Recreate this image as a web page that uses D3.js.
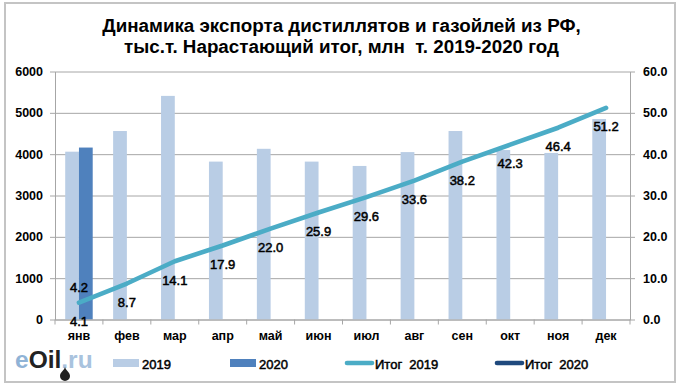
<!DOCTYPE html>
<html lang="ru">
<head>
  <meta charset="UTF-8">
  <title>Экспорт дистиллятов</title>
  <script src="https://d3js.org/d3.v7.min.js"></script>
  <style>
    * { margin: 0; padding: 0; box-sizing: border-box; }
    body { background: #fff; font-family: "Liberation Sans", Arial, sans-serif; }
    svg { display: block; }
    text { fill: #000; font-family: "Liberation Sans", Arial, sans-serif; white-space: pre; }
  </style>
</head>
<body>
  <div id="chart"></div>
  <script>
    const months = ["янв", "фев", "мар", "апр", "май", "июн", "июл", "авг", "сен", "окт", "ноя", "дек"];
    const exp2019 = [4060, 4560, 5410, 3820, 4130, 3820, 3715, 4050, 4560, 4100, 4030, 4850];
    const exp2020 = [4160];
    const total2019 = [4.1, 8.7, 14.1, 17.9, 22.0, 25.9, 29.6, 33.6, 38.2, 42.3, 46.4, 51.2];
    const total2020 = [4.2];
    const leftTicks = [0, 1000, 2000, 3000, 4000, 5000, 6000];
    const rightTicks = [0, 10, 20, 30, 40, 50, 60];
    const titleLines = ["Динамика экспорта дистиллятов и газойлей из РФ,", "тыс.т. Нарастающий итог, млн  т. 2019-2020 год"];

    const width = 682, height = 389;
    const plot = {left: 55, right: 630, top: 71.5, bottom: 319.5};
    const c2019 = "#b9cde5", c2020 = "#4f81bd", cLine19 = "#4bacc6", cLine20 = "#1f497d";

    const svg = d3.select("#chart").append("svg")
      .attr("width", width)
      .attr("height", height);

    // рамка
    svg.append("rect")
      .attr("x", 5).attr("y", 3)
      .attr("width", 670).attr("height", 379)
      .attr("fill", "#fff")
      .attr("stroke", "#c4c4c4")
      .attr("stroke-width", 2);

    svg.append("g").selectAll("text")
      .data(titleLines)
      .enter()
      .append("text")
      .attr("x", 341.5)
      .attr("y", (d, i) => 32 + i * 20.5)
      .attr("text-anchor", "middle")
      .style("font-size", "18.8px")
      .style("font-weight", "bold")
      .text(d => d);

    const x = d3.scaleBand().domain(months).range([plot.left, plot.right]);
    const xGroup = d3.scaleBand().domain(["2019", "2020"]).range([0, 27.5]);
    const groupOffset = (x.bandwidth() - 27.5) / 2;
    const y = d3.scaleLinear().domain([0, 6000]).range([plot.bottom, plot.top]);
    const yRight = d3.scaleLinear().domain([0, 60]).range([plot.bottom, plot.top]);

    // сетка
    svg.append("g")
      .attr("transform", `translate(${plot.left},0)`)
      .call(d3.axisLeft(y).tickValues(leftTicks).tickSize(-(plot.right - plot.left)).tickFormat(""))
      .call(g => g.select(".domain").remove())
      .selectAll("line")
      .attr("stroke", "#a6a6a6")
      .attr("stroke-width", 1);

    svg.selectAll(".bar19")
      .data(exp2019)
      .enter()
      .append("rect")
      .attr("class", "bar19")
      .attr("x", (d, i) => x(months[i]) + groupOffset + xGroup("2019"))
      .attr("y", d => y(d))
      .attr("width", xGroup.bandwidth())
      .attr("height", d => y(0) - y(d))
      .attr("fill", c2019);

    svg.selectAll(".bar20")
      .data(exp2020)
      .enter()
      .append("rect")
      .attr("class", "bar20")
      .attr("x", (d, i) => x(months[i]) + groupOffset + xGroup("2020"))
      .attr("y", d => y(d))
      .attr("width", xGroup.bandwidth())
      .attr("height", d => y(0) - y(d))
      .attr("fill", c2020);

    const axisLeft = svg.append("g")
      .attr("transform", `translate(${plot.left},0)`)
      .call(d3.axisLeft(y).tickValues(leftTicks).tickSize(5).tickSizeOuter(0).tickPadding(7).tickFormat(d3.format("d")));
    const axisRight = svg.append("g")
      .attr("transform", `translate(${plot.right},0)`)
      .call(d3.axisRight(yRight).tickValues(rightTicks).tickSize(5).tickSizeOuter(0).tickPadding(8).tickFormat(d3.format(".1f")));
    const axisBottom = svg.append("g")
      .attr("transform", `translate(0,${plot.bottom})`)
      .call(d3.axisBottom(x).tickSize(0).tickPadding(12));

    // засечки между категориями
    axisBottom.selectAll(".sep")
      .data(months.concat("end"))
      .enter()
      .append("line")
      .attr("class", "sep")
      .attr("x1", (d, i) => plot.left + i * x.step())
      .attr("x2", (d, i) => plot.left + i * x.step())
      .attr("y1", 0)
      .attr("y2", 5);

    [axisLeft, axisRight, axisBottom].forEach(g => {
      g.selectAll(".domain").attr("stroke", "#a6a6a6");
      g.selectAll("line").attr("stroke", "#a6a6a6");
      g.selectAll("text")
        .style("font-size", "12.5px")
        .style("font-weight", "bold")
        .style("font-family", "'Liberation Sans', Arial, sans-serif")
        .attr("fill", "#000");
    });

    const line = d3.line()
      .x((d, i) => x(months[i]) + x.bandwidth() / 2)
      .y(d => yRight(d));

    svg.append("path")
      .datum(total2019)
      .attr("d", line)
      .attr("fill", "none")
      .attr("stroke", cLine19)
      .attr("stroke-width", 4.6)
      .attr("stroke-linecap", "round")
      .attr("stroke-linejoin", "round");

    // подписи не жирные, но с лёгкой обводкой - как в исходнике
    svg.selectAll(".lab19")
      .data(total2019)
      .enter()
      .append("text")
      .attr("class", "lab19")
      .attr("x", (d, i) => x(months[i]) + x.bandwidth() / 2)
      .attr("y", d => yRight(d) + 23.5)
      .attr("text-anchor", "middle")
      .attr("stroke", "#000")
      .attr("stroke-width", 0.5)
      .style("font-size", "13px")
      .text(d => d.toFixed(1));

    svg.selectAll(".lab20")
      .data(total2020)
      .enter()
      .append("text")
      .attr("class", "lab20")
      .attr("x", (d, i) => x(months[i]) + x.bandwidth() / 2)
      .attr("y", d => yRight(d) - 10)
      .attr("text-anchor", "middle")
      .attr("stroke", "#000")
      .attr("stroke-width", 0.5)
      .style("font-size", "13px")
      .text(d => d.toFixed(1));

    // легенда
    const legendItems = [
      {name: "2019", color: c2019, type: "bar", x: 113},
      {name: "2020", color: c2020, type: "bar", x: 230},
      {name: "Итог  2019", color: cLine19, type: "line", x: 345},
      {name: "Итог  2020", color: cLine20, type: "line", x: 495}
    ];
    const legend = svg.selectAll(".legend")
      .data(legendItems)
      .enter()
      .append("g")
      .attr("class", "legend")
      .attr("transform", d => `translate(${d.x},363)`);
    legend.filter(d => d.type === "bar").append("rect")
      .attr("y", -4).attr("width", 26).attr("height", 8)
      .attr("fill", d => d.color);
    legend.filter(d => d.type === "line").append("line")
      .attr("x1", 2).attr("x2", 27)
      .attr("stroke", d => d.color)
      .attr("stroke-width", 4.6)
      .attr("stroke-linecap", "round");
    legend.append("text")
      .attr("x", d => d.type === "bar" ? 29 : 30)
      .attr("y", 6)
      .attr("stroke", "#000")
      .attr("stroke-width", 0.5)
      .style("font-size", "13px")
      .text(d => d.name);

    // логотип
    const logo = svg.append("g");
    logo.append("text")
      .attr("x", 15).attr("y", 368)
      .style("font-size", "24.5px")
      .style("font-weight", "bold")
      .selectAll("tspan")
      .data([["e", "#8fb3d6"], ["Oil", "#222"], [".ru", "#a9c3de"]])
      .enter()
      .append("tspan")
      .style("fill", d => d[1])
      .text(d => d[0]);
    logo.append("path")
      .attr("d", "M65,367 C66,371 70,372 70,376 A5,5 0 0 1 60,376 C60,372 64,371 65,367 Z")
      .attr("fill", "#222");
  </script>
</body>
</html>
